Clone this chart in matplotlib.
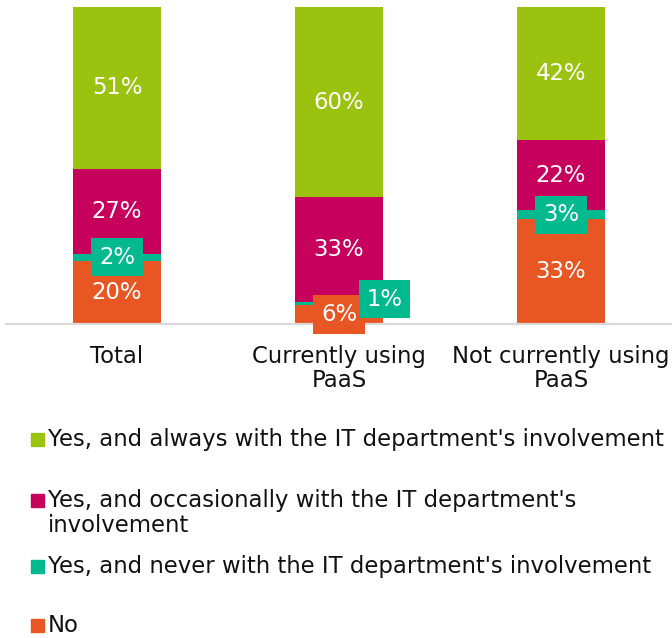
import matplotlib.pyplot as plt
from matplotlib.patches import Rectangle

# Survey answers per group, stacked from the bottom up
categories = ["Total", "Currently using\nPaaS", "Not currently using\nPaaS"]
series_names = [
    "No",
    "Yes, and never with the IT department's involvement",
    "Yes, and occasionally with the IT department's\ninvolvement",
    "Yes, and always with the IT department's involvement",
]
no_vals = [20, 6, 33]
never_vals = [2, 1, 3]
occasionally_vals = [27, 33, 22]
always_vals = [51, 60, 42]

colors = ["#E85623", "#00B98E", "#C7005D", "#9BC20F"]
text_color = "#111111"
fs = 16.4

fig = plt.figure(figsize=[6.72, 6.38], dpi=100, facecolor="white")
ax = fig.add_axes([6 / 672, 1 - 324 / 638, 666 / 672, 317 / 638])

x = list(range(len(categories)))
width = 0.396
series = [no_vals, never_vals, occasionally_vals, always_vals]
bottoms = [0] * len(categories)
for vals, color in zip(series, colors):
    ax.bar(x, vals, width, bottom=bottoms, color=color, zorder=2)
    for i, v in enumerate(vals):
        yc = bottoms[i] + v / 2
        label = "%d%%" % v
        if color == colors[1]:
            # thin slices get a boxed label; nudge the crowded one aside
            dx, dy = (0.207, 1.3) if v < 2 else (0, 0)
            ax.text(i + dx, yc + dy, label, ha="center", va="center",
                    color="white", fontsize=fs, zorder=5,
                    bbox=dict(boxstyle="square,pad=0.33", fc=color, ec="none"))
        elif v < 10:
            ax.text(i, yc, label, ha="center", va="center", color="white",
                    fontsize=fs, zorder=4,
                    bbox=dict(boxstyle="square,pad=0.33", fc=color, ec="none"))
        else:
            ax.text(i, yc, label, ha="center", va="center", color="white",
                    fontsize=fs, zorder=4)
    bottoms = [b + v for b, v in zip(bottoms, vals)]

ax.set_xlim(-0.5, 2.5)
ax.set_ylim(0, 100)
ax.set_yticks([])
ax.set_xticks(x)
ax.set_xticklabels(categories, fontsize=fs, color=text_color, linespacing=1.05)
ax.tick_params(axis="x", length=0, pad=15)
for s in ["top", "right", "left"]:
    ax.spines[s].set_visible(False)
ax.spines["bottom"].set_color("#d9d9d9")
ax.spines["bottom"].set_linewidth(1.6)
ax.spines["bottom"].set_zorder(3)

# Legend drawn by hand, top entry first
legend_rows = [439, 500, 566, 625]
for name, color, ypix in zip(series_names[::-1], colors[::-1], legend_rows):
    yf = 1 - ypix / 638
    fig.patches.append(Rectangle((31 / 672, yf - 6.5 / 638), 13 / 672, 13 / 638,
                                 transform=fig.transFigure, color=color))
    fig.text(48 / 672, yf + 11 / 638, name, ha="left", va="top",
             fontsize=fs, color=text_color, linespacing=1.1)

fig.savefig("out.png", dpi=100, facecolor="white")
